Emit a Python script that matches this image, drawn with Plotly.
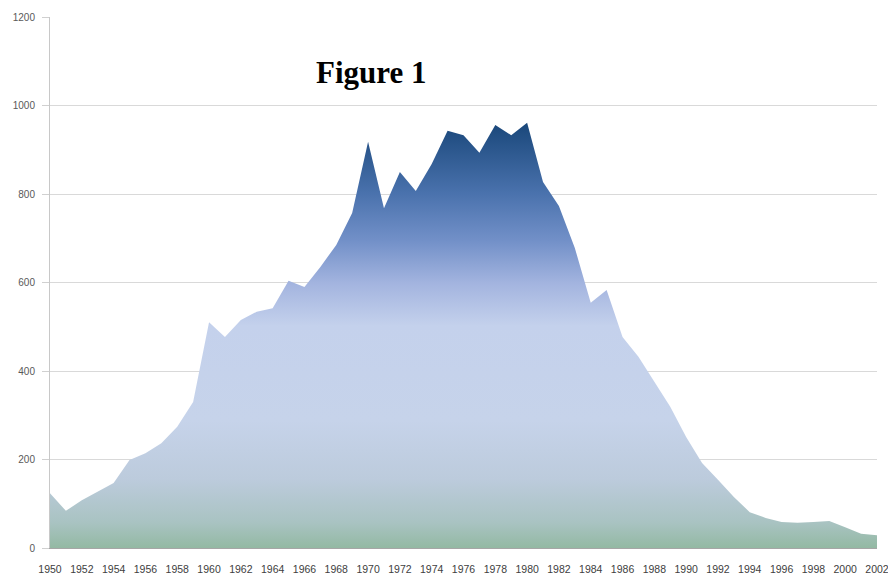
import plotly.graph_objects as go

years = list(range(1950, 2003))
values = [124, 84, 108, 128, 147, 199, 214, 237, 274, 330, 510, 477, 515, 534, 542, 604,
          590, 635, 685, 757, 918, 768, 850, 807, 868, 943, 933, 893, 956, 933, 961, 827,
          773, 678, 554, 583, 477, 432, 375, 319, 251, 192, 154, 115, 81, 68, 59, 57, 59,
          61, 47, 32, 29]
tick_years = list(range(1950, 2003, 2))
y_ticks = [0, 200, 400, 600, 800, 1000, 1200]
title_text = "Figure 1"

fig = go.Figure()
fig.add_trace(go.Scatter(
    x=years, y=values, mode="lines", fill="tozeroy",
    line=dict(width=0, color="rgba(0,0,0,0)"),
    fillgradient=dict(
        type="vertical", start=0, stop=965,
        colorscale=[
            [0.0, "#93b9a3"],
            [0.06, "#a9c3c2"],
            [0.16, "#bccbdc"],
            [0.3, "#c6d3ea"],
            [0.52, "#c4d1ec"],
            [0.62, "#a3b4df"],
            [0.72, "#7290c8"],
            [0.83, "#4a72ad"],
            [1.0, "#184679"],
        ],
    ),
    hoverinfo="x+y", showlegend=False,
))

fig.add_annotation(
    text="<b>" + title_text + "</b>", xref="paper", yref="paper", x=0.389, y=0.896,
    xanchor="center", yanchor="middle", showarrow=False,
    font=dict(family="Liberation Serif, Times New Roman, serif", size=31, color="#000000"),
)

fig.update_layout(
    width=888, height=569,
    margin=dict(l=42, r=19, t=9, b=29),
    paper_bgcolor="white", plot_bgcolor="white",
    font=dict(family="Liberation Sans, Arial, sans-serif", color="#595959"),
)
fig.update_xaxes(
    range=[1950, 2002], tickvals=tick_years, ticktext=[str(t) for t in tick_years],
    showgrid=False, zeroline=False, showline=True, linecolor="#a6a6a6", linewidth=1,
    ticks="", tickfont=dict(size=10.5, color="#404040"), ticklabelstandoff=11,
    automargin=False,
)
fig.update_yaxes(
    range=[0, 1200], tickvals=y_ticks, showgrid=True, gridcolor="#d9d9d9", gridwidth=1,
    zeroline=False, showline=True, linecolor="#c8c8c8", linewidth=1,
    ticks="outside", ticklen=7, tickcolor="#d0d0d0",
    tickfont=dict(size=10, color="#595959"), ticklabelstandoff=5,
    automargin=False,
)

fig.write_html("out.html")
